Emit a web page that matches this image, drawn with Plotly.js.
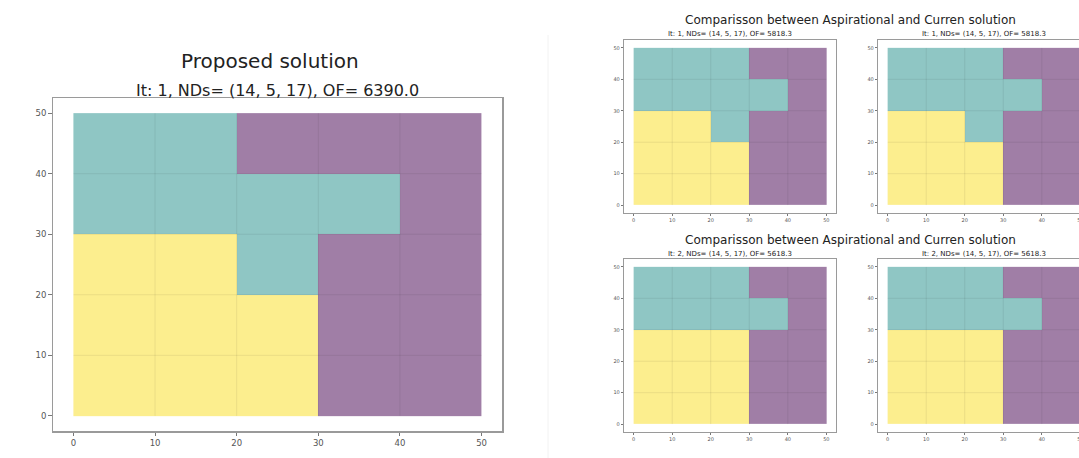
<!DOCTYPE html>
<html>
<head>
<meta charset="utf-8">
<script src="https://cdn.plot.ly/plotly-3.0.1.min.js"></script>
<style>
  html, body { margin: 0; padding: 0; background: #fff; overflow: hidden; }
  #chart { width: 1100px; height: 458px; }
</style>
</head>
<body>
<div id="chart"></div>
<script>
// ---- data ----
const cellCentersX = [5, 15, 25, 35, 45];
const cellCentersY = [5, 15, 25, 35, 45];
const tickValues = [0, 10, 20, 30, 40, 50];
const gridValues = [10, 20, 30, 40];
// zone codes: 0 = purple zone, 1 = teal zone, 2 = yellow zone; rows listed bottom (y=5) to top (y=45)
const proposedZones = [
  [2, 2, 2, 0, 0],
  [2, 2, 2, 0, 0],
  [2, 2, 1, 0, 0],
  [1, 1, 1, 1, 0],
  [1, 1, 0, 0, 0]
];
const iter1Zones = [
  [2, 2, 2, 0, 0],
  [2, 2, 2, 0, 0],
  [2, 2, 1, 0, 0],
  [1, 1, 1, 1, 0],
  [1, 1, 1, 0, 0]
];
const iter2Zones = [
  [2, 2, 2, 0, 0],
  [2, 2, 2, 0, 0],
  [2, 2, 2, 0, 0],
  [1, 1, 1, 1, 0],
  [1, 1, 1, 0, 0]
];
const mainTitle = "Proposed solution";
const mainSubtitle = "It: 1, NDs= (14, 5, 17), OF= 6390.0";
const compareTitle = "Comparisson between Aspirational and Curren solution";
const iter1Subtitle = "It: 1, NDs= (14, 5, 17), OF= 5818.3";
const iter2Subtitle = "It: 2, NDs= (14, 5, 17), OF= 5618.3";

// ---- style ----
const W = 1100, H = 458;
const FONT = "DejaVu Sans, Liberation Sans, sans-serif";
const zoneScale = [
  [0, '#a07ea6'], [0.3333, '#a07ea6'],
  [0.3333, '#8fc6c4'], [0.6667, '#8fc6c4'],
  [0.6667, '#fcee8e'], [1, '#fcee8e']
];
const px = v => v / W;
const py = v => (H - v) / H;

// panels: frame pixel boxes [left, right, top, bottom]
const panels = [
  { z: proposedZones, box: [53, 502, 98, 431], big: true },
  { z: iter1Zones, box: [624, 836, 40, 213], big: false },
  { z: iter1Zones, box: [878, 1090, 40, 213], big: false },
  { z: iter2Zones, box: [624, 836, 259, 432], big: false },
  { z: iter2Zones, box: [878, 1090, 259, 432], big: false }
];

const data = [];
const layout = {
  width: W, height: H, autosize: false,
  margin: { l: 0, r: 0, t: 0, b: 0 },
  paper_bgcolor: '#fff', plot_bgcolor: '#fff',
  showlegend: false,
  shapes: [], annotations: []
};

panels.forEach((p, i) => {
  const n = i === 0 ? '' : String(i + 1);
  const xa = 'x' + n, ya = 'y' + n;
  data.push({
    type: 'heatmap', x: cellCentersX, y: cellCentersY, z: p.z,
    colorscale: zoneScale, zmin: 0, zmax: 2, showscale: false,
    hoverinfo: 'skip', xaxis: xa, yaxis: ya
  });
  const common = {
    range: [-2.5, 52.5], tickvals: tickValues, ticktext: tickValues.map(String),
    ticks: 'outside', ticklen: p.big ? 3.5 : 2, tickwidth: 1, tickcolor: '#777',
    showgrid: false, zeroline: false, showline: true, mirror: true,
    linecolor: '#9a9a9a', linewidth: p.big ? 1.5 : 1.2,
    tickfont: { family: FONT, size: p.big ? 8.5 : 5, color: '#555' },
    fixedrange: true
  };
  layout['xaxis' + n] = Object.assign({}, common, {
    domain: [px(p.box[0]), px(p.box[1])], anchor: ya
  });
  layout['yaxis' + n] = Object.assign({}, common, {
    domain: [py(p.box[3]), py(p.box[2])], anchor: xa
  });
  // faint cell grid lines
  gridValues.forEach(v => {
    layout.shapes.push({ type: 'line', xref: xa, yref: ya, x0: v, x1: v, y0: 0, y1: 50,
      line: { color: 'rgba(0,0,0,0.07)', width: 1 } });
    layout.shapes.push({ type: 'line', xref: xa, yref: ya, x0: 0, x1: 50, y0: v, y1: v,
      line: { color: 'rgba(0,0,0,0.07)', width: 1 } });
  });
});

// separator line between the two images
layout.shapes.push({ type: 'line', xref: 'paper', yref: 'paper',
  x0: px(548), x1: px(548), y0: 0, y1: py(35),
  line: { color: '#f2f2f2', width: 1 } });

function addText(text, xpx, ypx, size) {
  layout.annotations.push({
    text: text, xref: 'paper', yref: 'paper', x: px(xpx), y: py(ypx),
    xanchor: 'center', yanchor: 'middle', showarrow: false,
    font: { family: FONT, size: size, color: '#222' }
  });
}
addText(mainTitle, 270, 61, 20);
addText(mainSubtitle, 277, 91, 16);
addText(compareTitle, 850, 20, 12);
addText(iter1Subtitle, 730, 34, 7);
addText(iter1Subtitle, 984, 34, 7);
addText(compareTitle, 850, 240, 12);
addText(iter2Subtitle, 730, 254, 7);
addText(iter2Subtitle, 984, 254, 7);

Plotly.newPlot('chart', data, layout, { displayModeBar: false, staticPlot: true });
</script>
</body>
</html>
